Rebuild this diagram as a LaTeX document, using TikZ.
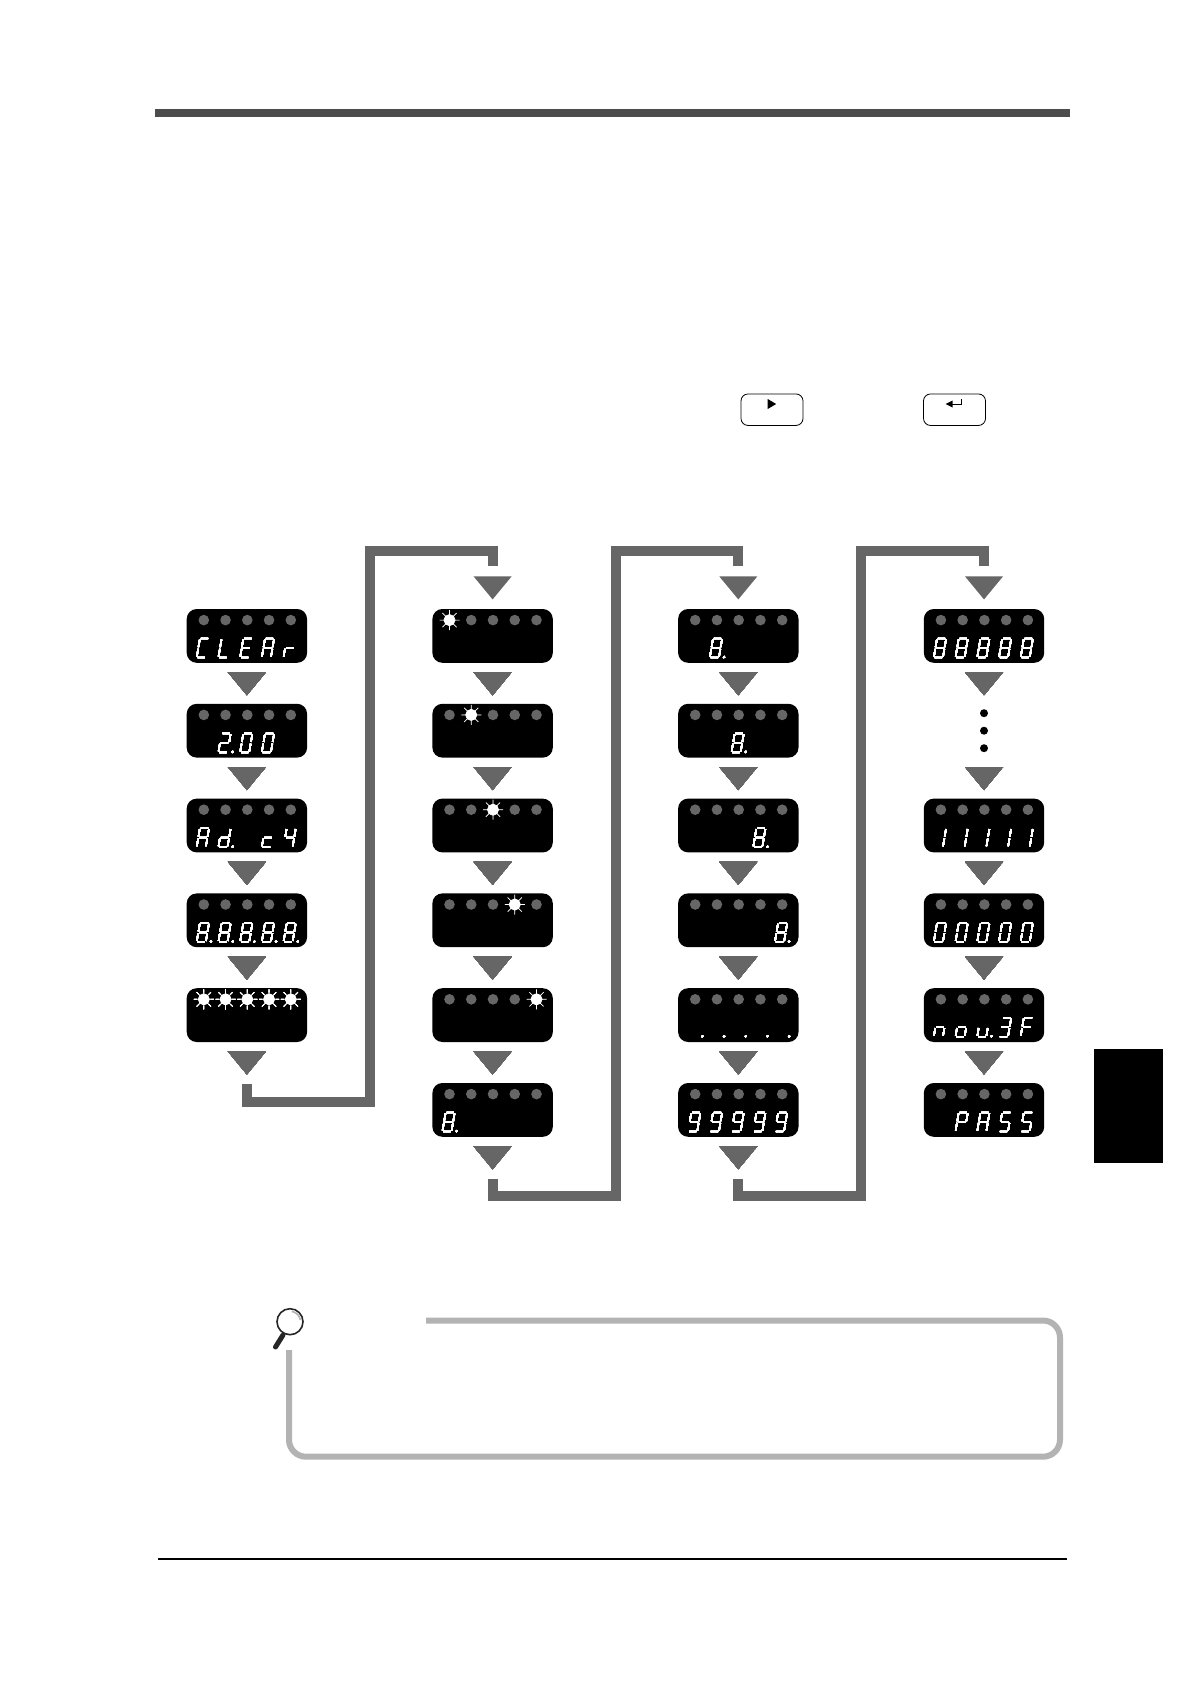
\documentclass[tikz,border=0pt]{standalone}
\usepackage{tikz}
\usetikzlibrary{calc}
\definecolor{flowgray}{HTML}{666666}
\definecolor{notegray}{HTML}{B3B3B3}
\tikzset{
    panel/.style={fill=black, rounded corners=10pt, minimum width=120.4pt, minimum height=53.8pt, inner sep=0pt},
    emptyrow/.style={minimum width=120.4pt, minimum height=53.8pt, inner sep=0pt},
    segline/.style={draw=white, line width=1.4pt},
    flowtri/.style={fill=flowgray},
    elbow/.style={draw=flowgray, line width=10pt},
    notebox/.style={draw=notegray, line width=6pt, rounded corners=17pt},
    keybox/.style={draw=black, line width=0.8pt, rounded corners=7pt, fill=white, minimum width=62pt, minimum height=31.5pt, inner sep=0pt},
}
% one segment each, origin at the lower left of the digit
\def\sega{(0.9,-19) -- (8.2,-19) }
\def\segb{(9.1,-18) -- (9.1,-10.4) }
\def\segc{(9.1,-8.6) -- (9.1,-1) }
\def\segd{(0.9,0) -- (8.2,0) }
\def\sege{(0,-8.6) -- (0,-1) }
\def\segf{(0,-18) -- (0,-10.4) }
\def\segg{(0.9,-9.5) -- (8.2,-9.5) }
\newcommand{\glyphdef}[2]{\expandafter\def\csname glyph#1\endcsname{\draw[segline] #2;}}
\glyphdef{0}{\sega\segb\segc\segd\sege\segf}
\glyphdef{1}{\segb\segc}
\glyphdef{2}{\sega\segb\segd\sege\segg}
\glyphdef{3}{\sega\segb\segc\segd\segg}
\glyphdef{4}{\segb\segc\segf\segg}
\glyphdef{8}{\sega\segb\segc\segd\sege\segf\segg}
\glyphdef{9}{\sega\segb\segc\segd\segf\segg}
\glyphdef{A}{\sega\segb\segc\sege\segf\segg}
\glyphdef{C}{\sega\segd\sege\segf}
\glyphdef{E}{\sega\segd\sege\segf\segg}
\glyphdef{F}{\sega\sege\segf\segg}
\glyphdef{L}{\segd\sege\segf}
\glyphdef{P}{\sega\segb\sege\segf\segg}
\glyphdef{S}{\sega\segc\segd\segf\segg}
\glyphdef{c}{\segd\sege\segg}
\glyphdef{d}{\segb\segc\segd\sege\segg}
\glyphdef{n}{\segc\sege\segg}
\glyphdef{o}{\segc\segd\sege\segg}
\glyphdef{r}{\sege\segg}
\glyphdef{u}{\segc\segd\sege}
\expandafter\def\csname glyphdot\endcsname{\fill[white] (14.2,-0.4) circle [radius=1.2];}
% panel, list of slot/character
\newcommand{\showtext}[2]{%
    \foreach \slot/\ch in {#2} {
        \begin{scope}[shift={(#1.north west)}, shift={({10.2+21.7*(\slot-1)},48.7)}, xslant=0.17]
            \csname glyph\ch\endcsname
        \end{scope}
    }}
% lit lamp
\newcommand{\lit}[2]{%
    \begin{scope}[shift={(#1.north west)}, shift={({17.3+21.75*(#2-1)},11.3)}]
        \fill [black] (0,0) circle [radius=6.5];
        \draw [white, line width=0.7pt, fill=white] (0,0) circle [radius=5.6]
            \foreach \ang in {0,45,...,315} {(0,0) -- (\ang:10)};
    \end{scope}}

\begin{document}
\begin{tikzpicture}[x=1pt, y=-1pt]
    \useasboundingbox (0, 0) rectangle (1191, 1684);
    \fill [white] (0, 0) rectangle (1191, 1684);
    % page furniture
    \fill [black!70] (155, 109) rectangle (1070, 117);
    \fill [black] (158, 1558) rectangle (1066.7, 1560);
    \fill [black] (1094, 1049) rectangle (1163, 1163);
    % key symbols
    \node [keybox] (keyright) at (772, 409.7) {};
    \node [keybox] (keyenter) at (954.5, 409.7) {};
    \fill [black] (767.7, 399) -- (776.2, 404) -- (767.7, 409) -- cycle;
    \draw [black, line width=0.9pt] (961.7, 399) -- (961.7, 404) -- (950, 404);
    \fill [black] (945.7, 404) -- (952.7, 400.5) -- (952.7, 407.5) -- cycle;
    % display panels
    \foreach \row in {1,...,5}
        \node [panel] (p1\row) at (246.9, {635.9+94.8*(\row-1)}) {};
    \foreach \col/\x in {2/492.6, 3/738.3}
        \foreach \row in {1,...,6}
            \node [panel] (p\col\row) at (\x, {635.9+94.8*(\row-1)}) {};
    \foreach \row in {1,3,4,5,6}
        \node [panel] (p4\row) at (984, {635.9+94.8*(\row-1)}) {};
    \node [emptyrow] (p42) at (984, 730.7) {};
    \fill [black] \foreach \dy in {-17.5,0,17.5} {($(p42.center)+(0,\dy)$) circle [radius=4]};
    \fill [flowgray] \foreach \panelid in {p11,p12,p13,p14,p21,p22,p23,p24,p25,p26,p31,p32,p33,p34,p35,p36,p41,p43,p44,p45,p46}
        {\foreach \n in {1,...,5} {($(\panelid.north west)+({17.3+21.75*(\n-1)},11.3)$) circle [radius=5.3]}};
    \foreach \n/\panelid in {1/p21,2/p22,3/p23,4/p24,5/p25}
        \lit{\panelid}{\n}
    \foreach \n in {1,...,5}
        \lit{p15}{\n}
    % digits
    \showtext{p11}{1/C,2/L,3/E,4/A,5/r}
    \showtext{p12}{2/2,2/dot,3/0,4/0}
    \showtext{p13}{1/A,2/d,2/dot,4/c,5/4}
    \showtext{p14}{1/8,1/dot,2/8,2/dot,3/8,3/dot,4/8,4/dot,5/8,5/dot}
    \showtext{p26}{1/8,1/dot}
    \showtext{p31}{2/8,2/dot}
    \showtext{p32}{3/8,3/dot}
    \showtext{p33}{4/8,4/dot}
    \showtext{p34}{5/8,5/dot}
    \showtext{p35}{1/dot,2/dot,3/dot,4/dot,5/dot}
    \showtext{p36}{1/9,2/9,3/9,4/9,5/9}
    \showtext{p41}{1/8,2/8,3/8,4/8,5/8}
    \showtext{p43}{1/1,2/1,3/1,4/1,5/1}
    \showtext{p44}{1/0,2/0,3/0,4/0,5/0}
    \showtext{p45}{1/n,2/o,3/u,3/dot,4/3,5/F}
    \showtext{p46}{2/P,3/A,4/S,5/S}
    % arrows between the panels
    \fill [flowtri] \foreach \panelid in {p11,p12,p13,p14,p15,p21,p22,p23,p24,p25,p26,p31,p32,p33,p34,p35,p36,p41,p42,p43,p44,p45}
        {([yshift=-9.2pt]\panelid.south) ++(-19, 0) -- ++(38, 0) -- ++(-19, 23) -- cycle};
    \fill [flowtri] \foreach \panelid in {p21,p31,p41}
        {([yshift=32.4pt]\panelid.north) ++(-19, 0) -- ++(38, 0) -- ++(-19, 23) -- cycle};
    % links between the columns
    \coordinate (turn1a) at (370, 1101.5);
    \coordinate (turn1b) at (370, 551);
    \coordinate (turn2a) at (615.7, 1196.3);
    \coordinate (turn2b) at (615.7, 551);
    \coordinate (turn3a) at (861.4, 1196.3);
    \coordinate (turn3b) at (861.4, 551);
    \draw [elbow] ([yshift=-42.2pt]p15.south) |- (turn1a) -- (turn1b) -| ([yshift=42.4pt]p21.north);
    \draw [elbow] ([yshift=-42.2pt]p26.south) |- (turn2a) -- (turn2b) -| ([yshift=42.4pt]p31.north);
    \draw [elbow] ([yshift=-42.2pt]p36.south) |- (turn3a) -- (turn3b) -| ([yshift=42.4pt]p41.north);
    % note frame
    \coordinate (notestart) at (426, 1320.5);
    \coordinate (noteend) at (289, 1350);
    \draw [notebox] (notestart) -- (1060, 1320.5) -- (1060, 1456.7) -- (289, 1456.7) -- (noteend);
    % magnifier
    \draw [black!85, line width=1.6pt] (290, 1321.7) circle [radius=13];
    \draw [black!30, line width=1.6pt] (290, 1321.7) ++(-10:10.5) arc [start angle=-10, end angle=-80, radius=10.5];
    \draw [black!85, line width=5pt, line cap=round] (283, 1335) -- (275.5, 1347);
\end{tikzpicture}
\end{document}
